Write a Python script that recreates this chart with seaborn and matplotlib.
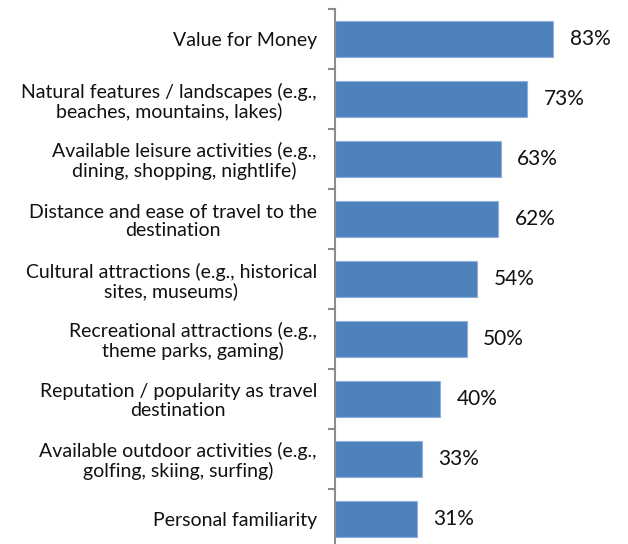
import matplotlib
matplotlib.use("Agg")
import matplotlib.pyplot as plt
import seaborn as sns
import pandas as pd
import numpy as np

categories = [
    "Value for Money",
    "Natural features / landscapes (e.g.,\nbeaches, mountains, lakes)",
    "Available leisure activities (e.g.,\ndining, shopping, nightlife)",
    "Distance and ease of travel to the\ndestination",
    "Cultural attractions (e.g., historical\nsites, museums)",
    "Recreational attractions (e.g.,\ntheme parks, gaming)",
    "Reputation / popularity as travel\ndestination",
    "Available outdoor activities (e.g.,\ngolfing, skiing, surfing)",
    "Personal familiarity",
]
values = [83, 73, 63, 62, 54, 50, 40, 33, 31]

df = pd.DataFrame({"category": categories, "value": values})

sns.set_style("white")
plt.rcParams["font.family"] = ["Lato", "DejaVu Sans"]

W, H = 628, 544
fig = plt.figure(figsize=(W / 100, H / 100), dpi=100)
# axis line at x=335px, 100% at ~598px; top boundary at 9px, bottom runs off the figure
ax = fig.add_axes([335 / W, -5 / H, 263 / W, (544 - 9 + 5) / H])

sns.barplot(data=df, x="value", y="category", orient="h", color="#4F81BD",
            width=0.59, edgecolor="#8DB0DB", linewidth=0.8, saturation=1, ax=ax)

ax.set_xlim(0, 100)
ax.set_ylim(len(categories) - 0.5, -0.5)
ax.set_xlabel("")
ax.set_ylabel("")
ax.set_xticks([])

for s in ["top", "right", "bottom"]:
    ax.spines[s].set_visible(False)
ax.spines["left"].set_color("#8C8C8C")
ax.spines["left"].set_linewidth(1.5)

# tick marks sit between categories, labels at category centres
ax.set_yticks(np.arange(len(categories) + 1) - 0.5, minor=True)
ax.tick_params(axis="y", which="minor", length=5, width=1.5, color="#8C8C8C", direction="out", left=True)
ax.tick_params(axis="y", which="major", length=0, pad=13, labelsize=14, labelcolor="#111111")
for lbl in ax.get_yticklabels():
    lbl.set_horizontalalignment("right")
    lbl.set_multialignment("center")
    lbl.set_linespacing(1.1)

for i, v in enumerate(values):
    ax.text(v + 6.3, i, f"{v}%", va="center", ha="left", fontsize=15, color="#111111")

fig.savefig("out.png", dpi=100)
